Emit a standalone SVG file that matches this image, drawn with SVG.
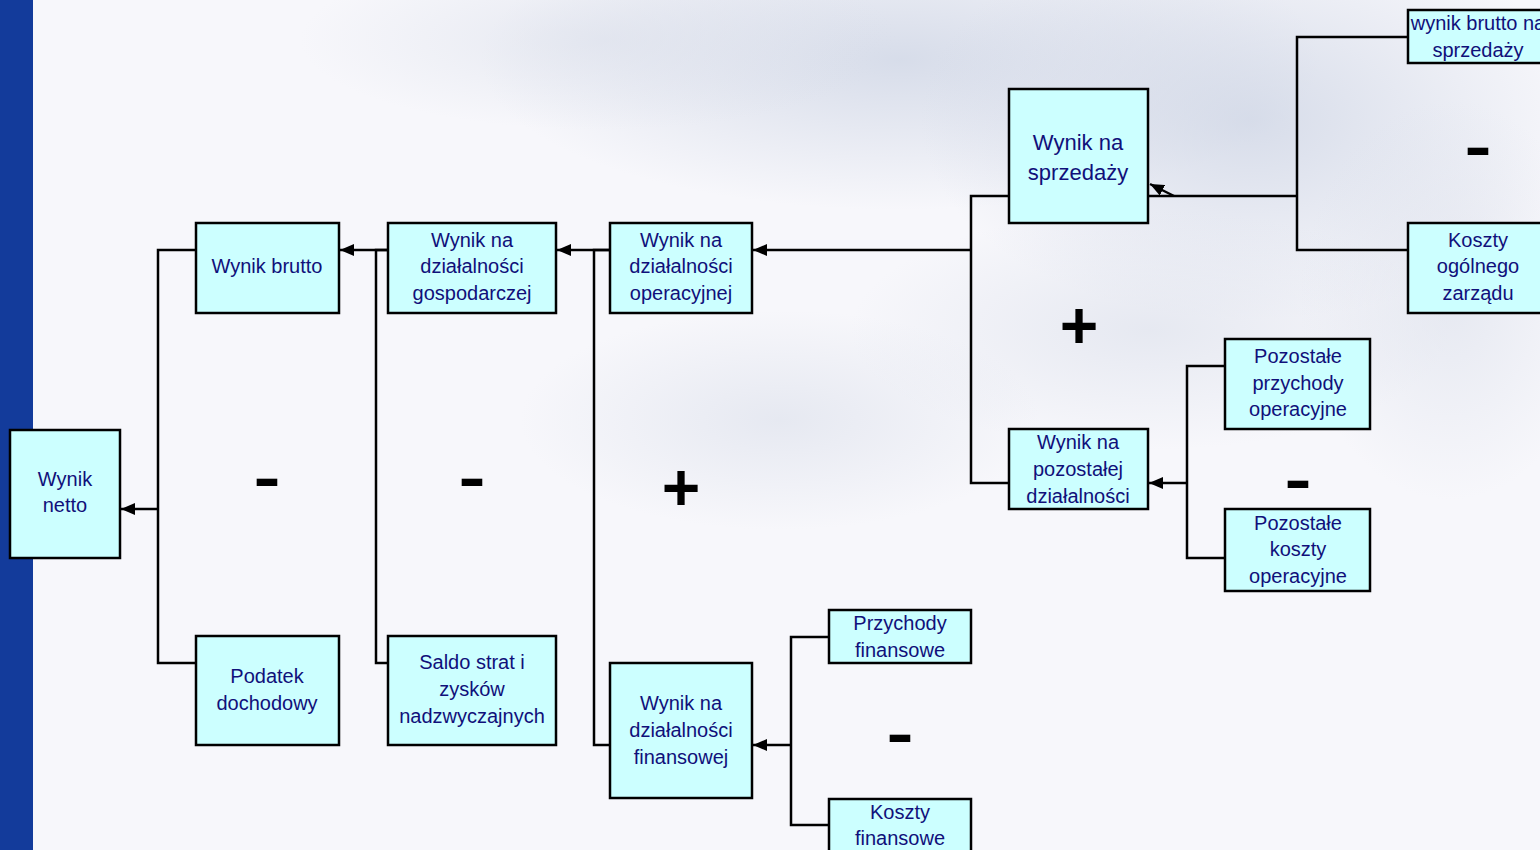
<svg xmlns="http://www.w3.org/2000/svg" width="1540" height="850" viewBox="0 0 1540 850">
<defs>
  <marker id="ah" viewBox="0 0 14 12" refX="14" refY="6" markerWidth="14" markerHeight="12" markerUnits="userSpaceOnUse" orient="auto">
    <path d="M0,0 L14,6 L0,12 z" fill="#000"/>
  </marker>
  <radialGradient id="cl1" cx="0.5" cy="0.5" r="0.5">
    <stop offset="0" stop-color="#c9d1e2" stop-opacity="0.7"/>
    <stop offset="1" stop-color="#c9d1e2" stop-opacity="0"/>
  </radialGradient>
  <radialGradient id="cl2" cx="0.5" cy="0.5" r="0.5">
    <stop offset="0" stop-color="#d8dde9" stop-opacity="0.55"/>
    <stop offset="1" stop-color="#d8dde9" stop-opacity="0"/>
  </radialGradient>
  <style>
    .box { fill: #ccffff; stroke: #000; stroke-width: 2.5; }
    .lbl { font-family: "Liberation Sans", Arial, sans-serif; font-size: 20px; fill: #10107a; text-anchor: middle; }
    .big { font-size: 22px; }
    .con { fill: none; stroke: #000; stroke-width: 2.5; }
    .arr { fill: none; stroke: #000; stroke-width: 2.5; marker-end: url(#ah); }
    .sign { font-family: "Liberation Sans", Arial, sans-serif; font-weight: bold; fill: #000; text-anchor: middle; }
    .minus { font-size: 56px; }
    .plus { font-size: 66px; }
  </style>
</defs>

<!-- background -->
<rect x="0" y="0" width="1540" height="850" fill="#f7f7fb"/>
<ellipse cx="900" cy="60" rx="420" ry="150" fill="url(#cl1)"/>
<ellipse cx="1250" cy="120" rx="330" ry="200" fill="url(#cl1)"/>
<ellipse cx="600" cy="40" rx="300" ry="90" fill="url(#cl2)"/>
<ellipse cx="1150" cy="330" rx="300" ry="120" fill="url(#cl2)"/>
<ellipse cx="780" cy="420" rx="260" ry="110" fill="url(#cl2)"/>
<ellipse cx="1450" cy="300" rx="150" ry="200" fill="url(#cl2)"/>
<rect x="0" y="0" width="33" height="850" fill="#133b9b"/>

<!-- connectors -->
<g id="connectors">
  <polyline class="con" points="196,250 158,250 158,663 196,663"/>
  <line class="arr" x1="158" y1="509" x2="121" y2="509"/>
  <polyline class="con" points="388,250 376,250 376,663 388,663"/>
  <line class="arr" x1="388" y1="250" x2="340" y2="250"/>
  <polyline class="con" points="610,250 594,250 594,745 610,745"/>
  <line class="arr" x1="610" y1="250" x2="557" y2="250"/>
  <polyline class="con" points="1009,196 971,196 971,483 1009,483"/>
  <line class="arr" x1="971" y1="250" x2="753" y2="250"/>
  <polyline class="con" points="1408,37 1297,37 1297,250 1408,250"/>
  <line class="con" x1="1297" y1="196" x2="1149" y2="196"/>
  <line class="arr" x1="1174" y1="196" x2="1150" y2="184"/>
  <polyline class="con" points="1225,366 1187,366 1187,558 1225,558"/>
  <line class="arr" x1="1187" y1="483" x2="1149" y2="483"/>
  <polyline class="con" points="829,637 791,637 791,825 829,825"/>
  <line class="arr" x1="791" y1="745" x2="753" y2="745"/>
</g>

<!-- nodes -->
<g id="wynik-netto">
  <rect class="box" x="10" y="430" width="110" height="128"/>
  <text class="lbl" x="65" y="486">Wynik</text>
  <text class="lbl" x="65" y="512">netto</text>
</g>
<g id="wynik-brutto">
  <rect class="box" x="196" y="223" width="143" height="90"/>
  <text class="lbl" x="267" y="273">Wynik brutto</text>
</g>
<g id="wynik-gospodarczej">
  <rect class="box" x="388" y="223" width="168" height="90"/>
  <text class="lbl" x="472" y="247">Wynik na</text>
  <text class="lbl" x="472" y="273">działalności</text>
  <text class="lbl" x="472" y="300">gospodarczej</text>
</g>
<g id="wynik-operacyjnej">
  <rect class="box" x="610" y="223" width="142" height="90"/>
  <text class="lbl" x="681" y="247">Wynik na</text>
  <text class="lbl" x="681" y="273">działalności</text>
  <text class="lbl" x="681" y="300">operacyjnej</text>
</g>
<g id="wynik-sprzedazy">
  <rect class="box" x="1009" y="89" width="139" height="134"/>
  <text class="lbl big" x="1078" y="150">Wynik na</text>
  <text class="lbl big" x="1078" y="180">sprzedaży</text>
</g>
<g id="wynik-brutto-sprzedazy">
  <rect class="box" x="1408" y="10" width="140" height="53"/>
  <text class="lbl" x="1478" y="30">wynik brutto na</text>
  <text class="lbl" x="1478" y="57">sprzedaży</text>
</g>
<g id="koszty-zarzadu">
  <rect class="box" x="1408" y="223" width="140" height="90"/>
  <text class="lbl" x="1478" y="247">Koszty</text>
  <text class="lbl" x="1478" y="273">ogólnego</text>
  <text class="lbl" x="1478" y="300">zarządu</text>
</g>
<g id="wynik-pozostalej">
  <rect class="box" x="1009" y="429" width="139" height="80"/>
  <text class="lbl" x="1078" y="449">Wynik na</text>
  <text class="lbl" x="1078" y="476">pozostałej</text>
  <text class="lbl" x="1078" y="503">działalności</text>
</g>
<g id="pozostale-przychody">
  <rect class="box" x="1225" y="339" width="145" height="90"/>
  <text class="lbl" x="1298" y="363">Pozostałe</text>
  <text class="lbl" x="1298" y="390">przychody</text>
  <text class="lbl" x="1298" y="416">operacyjne</text>
</g>
<g id="pozostale-koszty">
  <rect class="box" x="1225" y="509" width="145" height="82"/>
  <text class="lbl" x="1298" y="530">Pozostałe</text>
  <text class="lbl" x="1298" y="556">koszty</text>
  <text class="lbl" x="1298" y="583">operacyjne</text>
</g>
<g id="podatek">
  <rect class="box" x="196" y="636" width="143" height="109"/>
  <text class="lbl" x="267" y="683">Podatek</text>
  <text class="lbl" x="267" y="710">dochodowy</text>
</g>
<g id="saldo">
  <rect class="box" x="388" y="636" width="168" height="109"/>
  <text class="lbl" x="472" y="669">Saldo strat i</text>
  <text class="lbl" x="472" y="696">zysków</text>
  <text class="lbl" x="472" y="723">nadzwyczajnych</text>
</g>
<g id="wynik-finansowej">
  <rect class="box" x="610" y="663" width="142" height="135"/>
  <text class="lbl" x="681" y="710">Wynik na</text>
  <text class="lbl" x="681" y="737">działalności</text>
  <text class="lbl" x="681" y="764">finansowej</text>
</g>
<g id="przychody-finansowe">
  <rect class="box" x="829" y="610" width="142" height="53"/>
  <text class="lbl" x="900" y="630">Przychody</text>
  <text class="lbl" x="900" y="657">finansowe</text>
</g>
<g id="koszty-finansowe">
  <rect class="box" x="829" y="799" width="142" height="60"/>
  <text class="lbl" x="900" y="819">Koszty</text>
  <text class="lbl" x="900" y="845">finansowe</text>
</g>

<!-- signs -->
<g id="signs">
  <text class="sign minus" transform="translate(267,498) scale(1.45,1.1)">-</text>
  <text class="sign minus" transform="translate(472,498) scale(1.45,1.1)">-</text>
  <text class="sign minus" transform="translate(1478,167) scale(1.45,1.1)">-</text>
  <text class="sign minus" transform="translate(1298,500) scale(1.45,1.1)">-</text>
  <text class="sign minus" transform="translate(900,754) scale(1.45,1.1)">-</text>
  <text class="sign plus" x="681" y="510">+</text>
  <text class="sign plus" x="1079" y="348">+</text>
</g>
</svg>
